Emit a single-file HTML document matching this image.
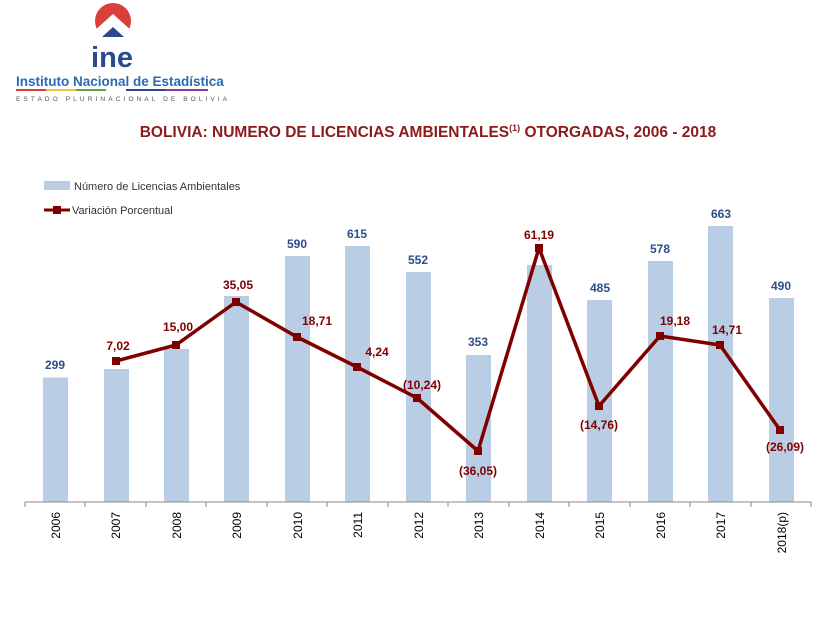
<!DOCTYPE html>
<html><head><meta charset="utf-8"><style>body{margin:0;background:#fff}</style></head><body>
<svg width="838" height="625" xmlns="http://www.w3.org/2000/svg" font-family="Liberation Sans, sans-serif">
<rect width="838" height="625" fill="#fff"/>
<circle cx="113" cy="21" r="18" fill="#d9403a"/>
<path d="M93,32 L113,14 L133,32 L133,40 L93,40 Z" fill="#fff"/>
<path d="M102,37 L113,27 L124,37 Z" fill="#2a4a8c"/>
<text x="112" y="67" font-size="29" font-weight="bold" fill="#2a4a8c" text-anchor="middle">ine</text>
<text x="16" y="86" font-size="13.5" font-weight="bold" fill="#2a6ab0">Instituto Nacional de Estadística</text>
<rect x="16" y="89" width="30" height="2" fill="#d9403a"/><rect x="46" y="89" width="30" height="2" fill="#e8c23a"/><rect x="76" y="89" width="30" height="2" fill="#5aa63a"/><rect x="126" y="89" width="40" height="2" fill="#2a4a8c"/><rect x="166" y="89" width="42" height="2" fill="#8a3a9a"/>
<text x="16" y="101" font-size="6.5" fill="#555" letter-spacing="3.1">ESTADO PLURINACIONAL DE BOLIVIA</text>
<text x="428" y="137" font-size="15.5" font-weight="bold" fill="#8b1a1a" text-anchor="middle">BOLIVIA: NUMERO DE LICENCIAS AMBIENTALES<tspan font-size="9" dy="-6">(1)</tspan><tspan dy="6"> OTORGADAS, 2006 - 2018</tspan></text>
<rect x="44" y="181" width="26" height="9" fill="#b9cde5"/>
<text x="74" y="190" font-size="11" fill="#333">Número de Licencias Ambientales</text>
<line x1="44" y1="210" x2="70" y2="210" stroke="#800000" stroke-width="3"/>
<rect x="53" y="206" width="8" height="8" fill="#800000"/>
<text x="72" y="214" font-size="11" fill="#333">Variación Porcentual</text>
<g fill="#b9cde5">
<rect x="43" y="377.5" width="25" height="124.5"/>
<rect x="104" y="369" width="25" height="133"/>
<rect x="164" y="349" width="25" height="153"/>
<rect x="224" y="296" width="25" height="206"/>
<rect x="285" y="256" width="25" height="246"/>
<rect x="345" y="246" width="25" height="256"/>
<rect x="406" y="272" width="25" height="230"/>
<rect x="466" y="355" width="25" height="147"/>
<rect x="527" y="265" width="25" height="237"/>
<rect x="587" y="300" width="25" height="202"/>
<rect x="648" y="261" width="25" height="241"/>
<rect x="708" y="226" width="25" height="276"/>
<rect x="769" y="298" width="25" height="204"/>
</g>
<g font-size="12" font-weight="bold" fill="#2e4d8a" text-anchor="middle">
<text x="55" y="369">299</text><text x="297" y="248">590</text><text x="357" y="238">615</text><text x="418" y="264">552</text><text x="478" y="346">353</text><text x="600" y="292">485</text><text x="660" y="253">578</text><text x="721" y="218">663</text><text x="781" y="290">490</text>
</g>
<line x1="25" y1="502" x2="811" y2="502" stroke="#888"/>
<g stroke="#888">
<line x1="25" y1="502" x2="25" y2="507"/><line x1="85" y1="502" x2="85" y2="507"/><line x1="146" y1="502" x2="146" y2="507"/><line x1="206" y1="502" x2="206" y2="507"/><line x1="267" y1="502" x2="267" y2="507"/><line x1="327" y1="502" x2="327" y2="507"/><line x1="388" y1="502" x2="388" y2="507"/><line x1="448" y1="502" x2="448" y2="507"/><line x1="509" y1="502" x2="509" y2="507"/><line x1="569" y1="502" x2="569" y2="507"/><line x1="630" y1="502" x2="630" y2="507"/><line x1="690" y1="502" x2="690" y2="507"/><line x1="751" y1="502" x2="751" y2="507"/><line x1="811" y1="502" x2="811" y2="507"/>
</g>
<g font-size="12" fill="#000" text-anchor="end">
<text transform="translate(60,512) rotate(-90)">2006</text>
<text transform="translate(120,512) rotate(-90)">2007</text>
<text transform="translate(181,512) rotate(-90)">2008</text>
<text transform="translate(241,512) rotate(-90)">2009</text>
<text transform="translate(302,512) rotate(-90)">2010</text>
<text transform="translate(362,512) rotate(-90)">2011</text>
<text transform="translate(423,512) rotate(-90)">2012</text>
<text transform="translate(483,512) rotate(-90)">2013</text>
<text transform="translate(544,512) rotate(-90)">2014</text>
<text transform="translate(604,512) rotate(-90)">2015</text>
<text transform="translate(665,512) rotate(-90)">2016</text>
<text transform="translate(725,512) rotate(-90)">2017</text>
<text transform="translate(786,512) rotate(-90)">2018(p)</text>
</g>
<polyline points="116,361 176,345 236,302 297,337 357,367 417,398 478,451 539,248 599,406 660,336 720,345 780,430" fill="none" stroke="#800000" stroke-width="3.5" stroke-linejoin="round"/>
<g fill="#800000">
<rect x="112" y="357" width="8" height="8"/><rect x="172" y="341" width="8" height="8"/><rect x="232" y="298" width="8" height="8"/><rect x="293" y="333" width="8" height="8"/><rect x="353" y="363" width="8" height="8"/><rect x="413" y="394" width="8" height="8"/><rect x="474" y="447" width="8" height="8"/><rect x="535" y="244" width="8" height="8"/><rect x="595" y="402" width="8" height="8"/><rect x="656" y="332" width="8" height="8"/><rect x="716" y="341" width="8" height="8"/><rect x="776" y="426" width="8" height="8"/>
</g>
<g font-size="12" font-weight="bold" fill="#800000" text-anchor="middle">
<text x="118" y="350">7,02</text><text x="178" y="331">15,00</text><text x="238" y="289">35,05</text><text x="317" y="325">18,71</text><text x="377" y="356">4,24</text><text x="422" y="389">(10,24)</text><text x="478" y="475">(36,05)</text><text x="539" y="239">61,19</text><text x="599" y="429">(14,76)</text><text x="675" y="325">19,18</text><text x="727" y="334">14,71</text><text x="785" y="451">(26,09)</text>
</g>
</svg>
</body></html>
